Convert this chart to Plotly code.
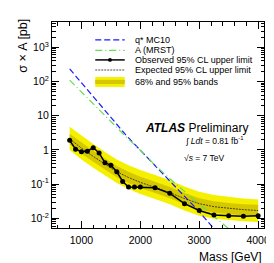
import plotly.graph_objects as go

# Observed limit
obs_mass = [800, 900, 1000, 1100, 1200, 1300, 1400, 1500, 1600, 1700, 1800, 1900, 2000,
            2250, 2500, 2750, 3000, 3250, 3500, 3750, 4000]
obs_limit = [1.92, 1.05, 0.89, 0.92, 1.17, 0.82, 0.42, 0.36, 0.23, 0.12, 0.083, 0.083, 0.083,
             0.079, 0.054, 0.027, 0.017, 0.0126, 0.012, 0.0115, 0.012]

# Expected limit and bands
exp_mass = [800, 1000, 1200, 1400, 1600, 1800, 2000, 2250, 2500, 2750, 3000, 3250, 3500, 3750, 4000]
exp_limit = [2.1, 1.13, 0.65, 0.385, 0.232, 0.157, 0.113, 0.081, 0.057, 0.038, 0.027, 0.022, 0.0195, 0.018, 0.017]
lo95 = [1.0, 0.53, 0.30, 0.18, 0.108, 0.073, 0.052, 0.037, 0.026, 0.017, 0.012, 0.0098, 0.0088, 0.0082, 0.0078]
lo68 = [1.45, 0.78, 0.45, 0.265, 0.16, 0.108, 0.078, 0.055, 0.039, 0.026, 0.018, 0.0148, 0.0132, 0.0122, 0.0115]
hi68 = [3.0, 1.65, 0.95, 0.56, 0.34, 0.23, 0.165, 0.118, 0.083, 0.055, 0.039, 0.032, 0.028, 0.026, 0.025]
hi95 = [4.8, 2.6, 1.5, 0.88, 0.53, 0.36, 0.26, 0.185, 0.13, 0.086, 0.06, 0.048, 0.042, 0.038, 0.036]

# Theory curves
qstar_mass = [800, 1000, 1250, 1500, 1750, 2000, 2250, 2500, 2750, 3000, 3250, 3500]
qstar_xs = [234, 91, 28, 8.9, 2.8, 0.98, 0.35, 0.126, 0.045, 0.0158, 0.005, 0.0016]
axi_mass = [800, 1000, 1250, 1500, 1750, 2000, 2250, 2500, 2750, 3000, 3250, 3500, 3750]
axi_xs = [110, 49, 18.2, 6.8, 2.5, 0.98, 0.36, 0.145, 0.060, 0.026, 0.0115, 0.005, 0.0022]

y_tickvals = [0.01, 0.1, 1, 10, 100, 1000]
y_ticktext = ["10<sup>-2</sup>", "10<sup>-1</sup>", "1", "10", "10<sup>2</sup>", "10<sup>3</sup>"]
x_tickvals = [1000, 2000, 3000, 4000]

legend_labels = ["q* MC10", "A (MRST)", "Observed 95% CL upper limit",
                 "Expected 95% CL upper limit", "68% and 95% bands"]

OUTER = "#f5f000"
INNER = "#d6c800"
BLUE = "#1a1aff"
GREEN = "#66dd55"
FONT = "Liberation Sans, Arial, sans-serif"

fig = go.Figure()
fig.add_trace(go.Scatter(x=exp_mass, y=lo95, mode="lines", line=dict(width=0), showlegend=False, hoverinfo="skip"))
fig.add_trace(go.Scatter(x=exp_mass, y=hi95, mode="lines", line=dict(width=0), fill="tonexty",
                         fillcolor=OUTER, showlegend=False, hoverinfo="skip"))
fig.add_trace(go.Scatter(x=exp_mass, y=lo68, mode="lines", line=dict(width=0), showlegend=False, hoverinfo="skip"))
fig.add_trace(go.Scatter(x=exp_mass, y=hi68, mode="lines", line=dict(width=0), fill="tonexty",
                         fillcolor=INNER, showlegend=False, hoverinfo="skip"))
fig.add_trace(go.Scatter(x=qstar_mass, y=qstar_xs, mode="lines",
                         line=dict(color=BLUE, width=1.2, dash="6px,3px"), showlegend=False))
fig.add_trace(go.Scatter(x=axi_mass, y=axi_xs, mode="lines",
                         line=dict(color=GREEN, width=1.2, dash="7px,3px,1px,3px"), showlegend=False))
fig.add_trace(go.Scatter(x=exp_mass, y=exp_limit, mode="lines",
                         line=dict(color="#222222", width=0.8, dash="2px,1px"), showlegend=False))
fig.add_trace(go.Scatter(x=obs_mass, y=obs_limit, mode="lines+markers",
                         line=dict(color="black", width=1.5),
                         marker=dict(color="black", size=5), showlegend=False))

# Manual compact legend (paper coordinates)
x0, x1, xt = 0.204, 0.343, 0.38
ys = [0.913, 0.862, 0.816, 0.767, 0.709]
shapes = [
    dict(type="line", xref="paper", yref="paper", x0=x0, x1=x1, y0=ys[0], y1=ys[0],
         line=dict(color=BLUE, width=1.2, dash="6px,3px")),
    dict(type="line", xref="paper", yref="paper", x0=x0, x1=x1, y0=ys[1], y1=ys[1],
         line=dict(color=GREEN, width=1.2, dash="7px,3px,1px,3px")),
    dict(type="line", xref="paper", yref="paper", x0=x0, x1=x1, y0=ys[2], y1=ys[2],
         line=dict(color="black", width=1.5)),
    dict(type="circle", xref="paper", yref="paper", x0=(x0 + x1) / 2 - 0.009, x1=(x0 + x1) / 2 + 0.009,
         y0=ys[2] - 0.009, y1=ys[2] + 0.009, fillcolor="black", line=dict(width=0)),
    dict(type="line", xref="paper", yref="paper", x0=x0, x1=x1, y0=ys[3], y1=ys[3],
         line=dict(color="#222222", width=0.8, dash="2px,1px")),
    dict(type="rect", xref="paper", yref="paper", x0=x0, x1=x1, y0=ys[4] - 0.024, y1=ys[4] + 0.024,
         fillcolor=OUTER, line=dict(width=0)),
    dict(type="rect", xref="paper", yref="paper", x0=x0, x1=x1, y0=ys[4] - 0.01, y1=ys[4] + 0.01,
         fillcolor=INNER, line=dict(width=0)),
]
annotations = [
    dict(x=xt, y=yy, xref="paper", yref="paper", text=t, showarrow=False, xanchor="left",
         yanchor="middle", font=dict(family=FONT, size=9, color="black"))
    for t, yy in zip(legend_labels, ys)
]
annotations += [
    dict(x=0.431, y=0.485, xref="paper", yref="paper",
         text="<b><i>ATLAS</i></b> Preliminary", showarrow=False, xanchor="left", yanchor="middle",
         font=dict(family=FONT, size=12, color="black")),
    dict(x=0.616, y=0.425, xref="paper", yref="paper",
         text="∫ <i>Ldt</i> = 0.81 fb<sup>-1</sup>", showarrow=False, xanchor="left", yanchor="middle",
         font=dict(family=FONT, size=8.5, color="black")),
    dict(x=0.611, y=0.34, xref="paper", yref="paper",
         text="√<i>s</i> = 7 TeV", showarrow=False, xanchor="left", yanchor="middle",
         font=dict(family=FONT, size=8.5, color="black")),
    dict(x=-0.134, y=0.883, xref="paper", yref="paper", text="σ × A [pb]", textangle=-90,
         showarrow=False, xanchor="center", yanchor="middle",
         font=dict(family=FONT, size=12.5, color="black")),
    dict(x=1.0, y=-0.142, xref="paper", yref="paper", text="Mass [GeV]", showarrow=False,
         xanchor="right", yanchor="middle", font=dict(family=FONT, size=12, color="black")),
]

fig.update_layout(
    width=274, height=263,
    margin=dict(l=44, r=14, t=14, b=43),
    paper_bgcolor="white", plot_bgcolor="white",
    font=dict(family=FONT, size=10, color="black"),
    showlegend=False,
    shapes=shapes, annotations=annotations,
)
fig.update_xaxes(
    range=[500, 4100], tickvals=x_tickvals, showgrid=False, zeroline=False,
    showline=True, linecolor="black", linewidth=1, mirror="allticks",
    ticks="inside", ticklen=7, tickcolor="black", tickfont=dict(size=10.5),
    ticklabelstandoff=2,
    minor=dict(ticks="inside", ticklen=3.5, tickcolor="black", dtick=200, showgrid=False),
)
fig.update_yaxes(
    type="log", range=[-2.28, 3.74], tickvals=y_tickvals, ticktext=y_ticktext,
    showgrid=False, zeroline=False,
    showline=True, linecolor="black", linewidth=1, mirror="allticks",
    ticks="inside", ticklen=7, tickcolor="black", tickfont=dict(size=10.5),
    minor=dict(ticks="inside", ticklen=3.5, tickcolor="black", dtick="D1", showgrid=False),
)

fig.write_html("out.html")
